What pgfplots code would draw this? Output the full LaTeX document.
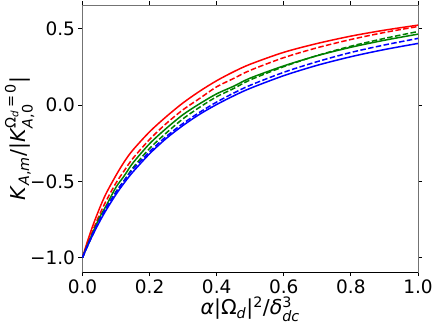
\documentclass[border=0pt]{standalone}
\usepackage{fontspec}
\setmainfont{DejaVu Sans}
\usepackage{amsmath}
\usepackage{pgfplots}
\pgfplotsset{compat=1.18}

\definecolor{mplgreen}{rgb}{0,0.5,0}

% curves: solid / dashed for each colour
\pgfplotstableread{
x      rs      rd      gs      gd      bs      bd
0      -1      -1      -1      -1      -1      -1
0.01   -0.926  -0.938  -0.943  -0.948  -0.948  -0.946
0.03   -0.795  -0.826  -0.839  -0.852  -0.853  -0.846
0.05   -0.681  -0.722  -0.740  -0.760  -0.768  -0.756
0.07   -0.581  -0.630  -0.662  -0.680  -0.690  -0.675
0.10   -0.460  -0.510  -0.538  -0.567  -0.585  -0.570
0.125  -0.370  -0.428  -0.462  -0.492  -0.508  -0.492
0.15   -0.295  -0.350  -0.380  -0.412  -0.439  -0.422
0.20   -0.175  -0.225  -0.253  -0.284  -0.319  -0.305
0.25   -0.075  -0.120  -0.152  -0.182  -0.218  -0.205
0.30   0.015   -0.030  -0.062  -0.089  -0.133  -0.120
0.35   0.092   0.045   0.010   -0.013  -0.059  -0.046
0.40   0.160   0.120   0.074   0.055   0.004   0.020
0.45   0.218   0.174   0.123   0.108   0.060   0.078
0.50   0.268   0.228   0.177   0.165   0.110   0.130
0.60   0.346   0.311   0.257   0.252   0.193   0.215
0.70   0.404   0.376   0.324   0.325   0.261   0.285
0.80   0.452   0.430   0.379   0.386   0.317   0.345
0.90   0.491   0.476   0.425   0.437   0.364   0.394
1.00   0.524   0.515   0.465   0.482   0.404   0.437
}\curves

\begin{document}
\begin{tikzpicture}
\begin{axis}[
  scale only axis,
  width=335.5pt, height=267pt,
  xmin=0, xmax=1,
  ymin=-1.094, ymax=0.656,
  xtick={0,0.2,0.4,0.6,0.8,1},
  xticklabels={0.0,0.2,0.4,0.6,0.8,1.0},
  ytick={-1,-0.5,0,0.5},
  yticklabels={−1.0,−0.5,0.0,0.5},
  tick align=outside,
  major tick length=4pt,
  tick style={black, line width=0.9pt},
  axis line style={black!55, line width=1pt},
  tick label style={font=\fontsize{18.5}{21}\selectfont},
  label style={font=\fontsize{20.5}{23}\selectfont},
  xlabel={\textit{α}|Ω$_{\text{\textit{d}}}$|$^{\text{2}}$/\textit{δ}$^{\text{3}}_{\text{\textit{dc}}}$},
  ylabel={\textit{K}$_{\text{\textit{A},\textit{m}}}$/|\textit{K}$^{\text{Ω}_{\text{\textit{d}}}\,\text{=}\,\text{0}}_{\text{\textit{A},0}}$|},
  xlabel style={yshift=3.8pt},
  ylabel style={yshift=-11pt},
  every axis plot/.append style={line width=1.5pt, smooth, tension=0.5},
  clip=true,
]
\addplot[red] table[x=x, y=rs] {\curves};
\addplot[red, dash pattern=on 5.5pt off 2.4pt] table[x=x, y=rd] {\curves};
\addplot[mplgreen] table[x=x, y=gs] {\curves};
\addplot[mplgreen, dash pattern=on 5.5pt off 2.4pt] table[x=x, y=gd] {\curves};
\addplot[blue] table[x=x, y=bs] {\curves};
\addplot[blue, dash pattern=on 5.5pt off 2.4pt] table[x=x, y=bd] {\curves};
\draw[black, line width=1pt] (rel axis cs:0,0) -- (rel axis cs:1,0);
\end{axis}
\pgfresetboundingbox
\path (current axis.south west) ++(-82.5pt,-53pt) rectangle ([shift={(18pt,5pt)}]current axis.north east);
\end{tikzpicture}
\end{document}
